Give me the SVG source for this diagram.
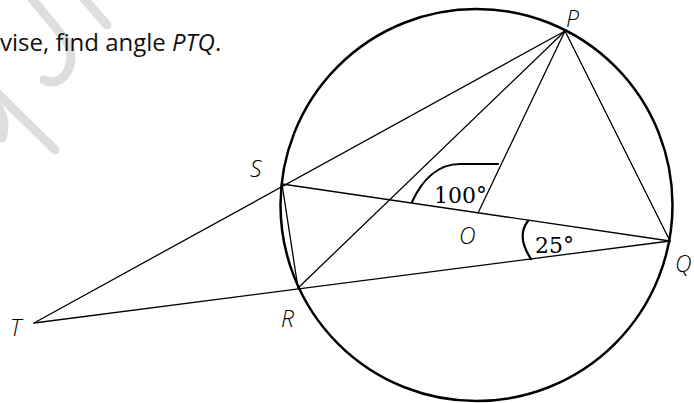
<svg xmlns="http://www.w3.org/2000/svg" width="694" height="403" viewBox="0 0 694 403">
<style>
.wm{fill:none;stroke:#dedede;stroke-width:9;stroke-linecap:round;stroke-linejoin:round}
.ln{stroke:#000;stroke-width:1.3;fill:none;stroke-linecap:round}
.circ{fill:none;stroke:#000;stroke-width:2.5}
.ang{fill:none;stroke:#000;stroke-width:2.2;stroke-linecap:round}
.lbl{font-family:"Open Sans","Noto Sans",sans-serif;font-style:italic;font-weight:300;font-size:23px;fill:#000}
.num{font-family:"DejaVu Serif","Liberation Serif",serif;font-size:22px;fill:#000}
.q{font-family:"Open Sans","Noto Sans",sans-serif;font-size:24px;fill:#111}
.it{font-style:italic}
</style>
<rect width="694" height="403" fill="#fff"/>
<g id="watermark">
<path class="wm" d="M80,-6 L107,25"/>
<path class="wm" d="M28,-6 L66,40 Q76,58 66,74 Q56,86 44,80"/>
<path class="wm" d="M-4,92 L55,150"/>
<path class="wm" d="M-4,104 Q8,120 2,138"/>
</g>
<g id="question">
<text class="q" x="0" y="51">vise, find angle <tspan class="it">PTQ</tspan>.</text>
</g>
<g id="circle">
<circle class="circ" cx="476.5" cy="205" r="196"/>
</g>
<g id="connectors">
<line class="ln" x1="34" y1="323" x2="565" y2="31"/>
<line class="ln" x1="34" y1="323" x2="670" y2="241"/>
<line class="ln" x1="282" y1="184" x2="670" y2="241"/>
<line class="ln" x1="282" y1="184" x2="298" y2="288"/>
<line class="ln" x1="298" y1="288" x2="565" y2="31"/>
<line class="ln" x1="565" y1="31" x2="478" y2="213"/>
<line class="ln" x1="565" y1="31" x2="670" y2="241"/>
</g>
<g id="angle-SOP">
<path class="ang" d="M412,202 C422,180 438,164 460,164 L498,164"/>
<text class="num" x="434" y="203">100°</text>
</g>
<g id="angle-SQT">
<path class="ang" d="M528,221 Q516,236 531,259"/>
<text class="num" x="535" y="253">25°</text>
</g>
<g id="P"><text class="lbl" x="566" y="27">P</text></g>
<g id="S"><text class="lbl" x="250" y="177">S</text></g>
<g id="R"><text class="lbl" x="281" y="327">R</text></g>
<g id="Q"><text class="lbl" x="675" y="272">Q</text></g>
<g id="T"><text class="lbl" x="10" y="336">T</text></g>
<g id="O"><text class="lbl" x="459" y="244">O</text></g>
</svg>
